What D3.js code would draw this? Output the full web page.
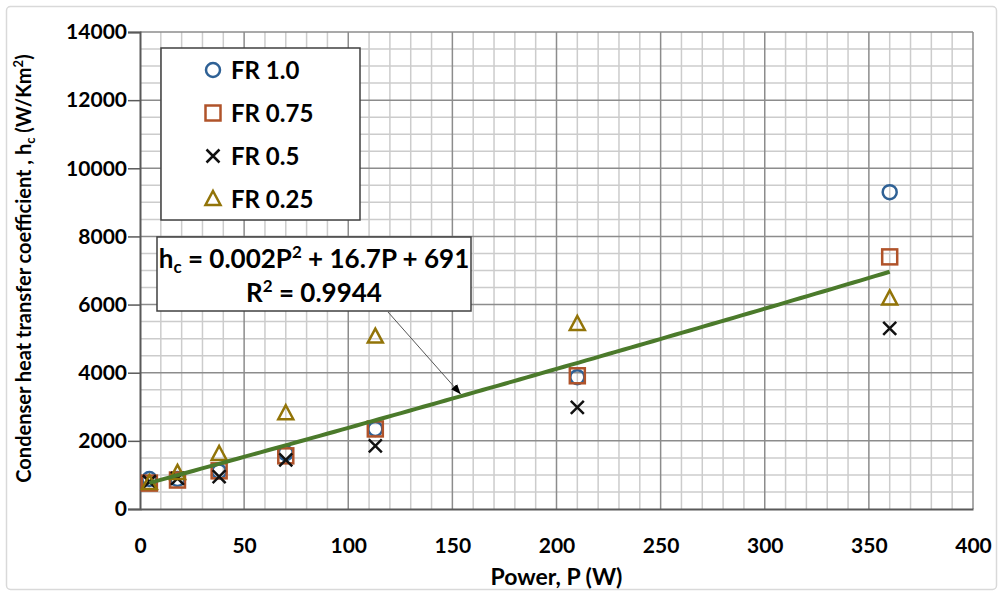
<!DOCTYPE html>
<html>
<head>
<meta charset="utf-8">
<script src="https://cdn.jsdelivr.net/npm/d3@7"></script>
<style>
  html, body { margin: 0; padding: 0; background: #fff; }
  svg { display: block; }
  text { font-family: Lato, "Open Sans", sans-serif; font-weight: bold; fill: #000; }
</style>
</head>
<body>
<svg id="chart" width="1004" height="595"></svg>
<script>
// Heater power (W) at each test point
const power = [4.5, 18, 38, 70, 113, 210, 360];

// Condenser heat transfer coefficient (W/Km^2) for each fill ratio
const fr100 = [880, 880, 1100, 1640, 2350, 3870, 9300];
const fr075 = [760, 850, 1120, 1560, 2350, 3910, 7400];
const fr050 = [800, 900, 950, 1440, 1850, 2980, 5300];
const fr025 = [760, 1060, 1615, 2810, 5060, 5430, 6180];

const seriesNames = ["FR 1.0", "FR 0.75", "FR 0.5", "FR 0.25"];

// Quadratic trend fit: hc = a P^2 + b P + c
const fitCoeffs = [0.002, 16.7, 691];
const fitR2 = "0.9944";

const xTicks = [0, 50, 100, 150, 200, 250, 300, 350, 400];
const yTicks = [0, 2000, 4000, 6000, 8000, 10000, 12000, 14000];

const svg = d3.select("#chart");
const W = 1004, H = 595;
const m = { left: 140, right: 973, top: 32, bottom: 509 };

const x = d3.scaleLinear().domain([0, 400]).range([m.left, m.right]);
const y = d3.scaleLinear().domain([0, 14000]).range([m.bottom, m.top]);

// outer frame
svg.append("rect")
  .attr("x", 6.5).attr("y", 6.5).attr("width", W - 14).attr("height", H - 12)
  .attr("rx", 4).attr("fill", "#fff").attr("stroke", "#d9d9d9").attr("stroke-width", 1.5);

// minor grid
const g = svg.append("g");
g.selectAll("line.vmin").data(d3.range(10, 400, 10).filter(v => v % 50 !== 0))
  .join("line").attr("class", "vmin")
  .attr("x1", d => x(d)).attr("x2", d => x(d)).attr("y1", m.top).attr("y2", m.bottom)
  .attr("stroke", "#cccccc").attr("stroke-width", 1.5);
g.selectAll("line.hmin").data(d3.range(500, 14000, 500).filter(v => v % 2000 !== 0))
  .join("line").attr("class", "hmin")
  .attr("x1", m.left).attr("x2", m.right).attr("y1", d => y(d)).attr("y2", d => y(d))
  .attr("stroke", "#cccccc").attr("stroke-width", 1.5);
// major grid
g.selectAll("line.vmaj").data(xTicks.slice(1))
  .join("line").attr("class", "vmaj")
  .attr("x1", d => x(d)).attr("x2", d => x(d)).attr("y1", m.top).attr("y2", m.bottom)
  .attr("stroke", "#8c8c8c").attr("stroke-width", 1.5);
g.selectAll("line.hmaj").data(yTicks.slice(1))
  .join("line").attr("class", "hmaj")
  .attr("x1", m.left).attr("x2", m.right).attr("y1", d => y(d)).attr("y2", d => y(d))
  .attr("stroke", "#8c8c8c").attr("stroke-width", 1.5);

// axes
const yAxis = d3.axisLeft(y).tickValues(yTicks).tickSize(12).tickPadding(1).tickFormat(d3.format("d"));
const yA = svg.append("g").attr("transform", `translate(${m.left},0)`).call(yAxis);
yA.select(".domain").attr("stroke", "#595959").attr("stroke-width", 2);
yA.selectAll(".tick line").attr("stroke", "#595959").attr("stroke-width", 1.5);
yA.selectAll(".tick text").attr("font-size", 21).attr("font-family", "Lato").attr("font-weight", "bold").attr("fill", "#000");

const xAxis = d3.axisBottom(x).tickValues(xTicks).tickSize(0).tickPadding(29).tickFormat(d3.format("d"));
const xA = svg.append("g").attr("transform", `translate(0,${m.bottom})`).call(xAxis);
xA.select(".domain").attr("stroke", "#595959").attr("stroke-width", 2);
xA.selectAll(".tick text").attr("font-size", 21).attr("font-family", "Lato").attr("font-weight", "bold").attr("fill", "#000");

// axis titles
svg.append("text").attr("x", (m.left + m.right) / 2).attr("y", 585)
  .attr("text-anchor", "middle").attr("font-size", 23).text("Power, P (W)");

const yt = svg.append("text")
  .attr("transform", `translate(31,${(m.top + m.bottom) / 2 - 2}) rotate(-90)`)
  .attr("text-anchor", "middle").attr("font-size", 20);
yt.append("tspan").text("Condenser heat transfer coefficient , h");
yt.append("tspan").attr("font-size", 13).attr("dy", 4).text("c");
yt.append("tspan").attr("dy", -4).text(" (W/Km");
yt.append("tspan").attr("font-size", 13).attr("dy", -8).text("2");
yt.append("tspan").attr("dy", 8).text(")");

// marker shapes
const colors = { circle: "#2f6195", square: "#b0532a", cross: "#111111", tri: "#927408" };
function drawMarker(sel, type) {
  if (type === "circle") {
    sel.append("circle").attr("r", 7).attr("fill", "none").attr("stroke", colors.circle).attr("stroke-width", 2.5);
  } else if (type === "square") {
    sel.append("rect").attr("x", -7.5).attr("y", -7.5).attr("width", 15).attr("height", 15)
      .attr("fill", "none").attr("stroke", colors.square).attr("stroke-width", 2.5);
  } else if (type === "cross") {
    sel.append("path").attr("d", "M-6.5,-6.5L6.5,6.5M-6.5,6.5L6.5,-6.5")
      .attr("stroke", colors.cross).attr("stroke-width", 2.5).attr("fill", "none");
  } else {
    sel.append("path").attr("d", "M0,-8L7.5,6L-7.5,6Z")
      .attr("fill", "none").attr("stroke", colors.tri).attr("stroke-width", 2.5).attr("stroke-linejoin", "miter");
  }
}

const series = [
  { name: seriesNames[0], values: fr100, type: "circle" },
  { name: seriesNames[1], values: fr075, type: "square" },
  { name: seriesNames[2], values: fr050, type: "cross" },
  { name: seriesNames[3], values: fr025, type: "tri" }
];

series.forEach(s => {
  svg.append("g").selectAll("g")
    .data(s.values.map((v, i) => [power[i], v]))
    .join("g")
    .attr("transform", d => `translate(${x(d[0])},${y(d[1])})`)
    .each(function () { drawMarker(d3.select(this), s.type); });
});

// trend curve
const fit = p => fitCoeffs[0] * p * p + fitCoeffs[1] * p + fitCoeffs[2];
const pMin = d3.min(power), pMax = d3.max(power);
const curve = d3.range(0, 101).map(i => pMin + (pMax - pMin) * i / 100);
svg.append("path")
  .datum(curve)
  .attr("d", d3.line().x(p => x(p)).y(p => y(fit(p))))
  .attr("fill", "none").attr("stroke", "#4b7a2b").attr("stroke-width", 4);

// legend
const lg = svg.append("g");
lg.append("rect").attr("x", 161).attr("y", 48).attr("width", 199).attr("height", 172)
  .attr("fill", "#fff").attr("stroke", "#404040").attr("stroke-width", 1.5);
series.forEach((s, i) => {
  const cy = 70 + i * 43;
  const mk = lg.append("g").attr("transform", `translate(213,${cy})`);
  drawMarker(mk, s.type);
  lg.append("text").attr("x", 231).attr("y", cy).attr("dy", "0.36em")
    .attr("font-size", 24).text(s.name);
});

// equation label with leader arrow
svg.append("defs").append("marker")
  .attr("id", "arrowhead").attr("viewBox", "0 0 10 10").attr("refX", 10).attr("refY", 5)
  .attr("markerWidth", 10).attr("markerHeight", 10).attr("markerUnits", "userSpaceOnUse")
  .attr("orient", "auto")
  .append("path").attr("d", "M0,1L10,5L0,9Z").attr("fill", "#000");

const arrowP = 154;
svg.append("line")
  .attr("x1", 388).attr("y1", 312)
  .attr("x2", x(arrowP)).attr("y2", y(fit(arrowP)) - 2)
  .attr("stroke", "#555").attr("stroke-width", 1).attr("marker-end", "url(#arrowhead)");

const eq = svg.append("g");
eq.append("rect").attr("x", 157).attr("y", 237).attr("width", 314).attr("height", 74)
  .attr("fill", "#fff").attr("stroke", "#404040").attr("stroke-width", 1.5);
const t1 = eq.append("text").attr("x", 314).attr("y", 268).attr("text-anchor", "middle").attr("font-size", 26);
t1.append("tspan").text("h");
t1.append("tspan").attr("font-size", 17).attr("dy", 5).text("c");
t1.append("tspan").attr("dy", -5).text(` = ${fitCoeffs[0]}P`);
t1.append("tspan").attr("font-size", 17).attr("dy", -10).text("2");
t1.append("tspan").attr("dy", 10).text(` + ${fitCoeffs[1]}P + ${fitCoeffs[2]}`);
const t2 = eq.append("text").attr("x", 314).attr("y", 302).attr("text-anchor", "middle").attr("font-size", 26);
t2.append("tspan").text("R");
t2.append("tspan").attr("font-size", 17).attr("dy", -10).text("2");
t2.append("tspan").attr("dy", 10).text(` = ${fitR2}`);
</script>
</body>
</html>
